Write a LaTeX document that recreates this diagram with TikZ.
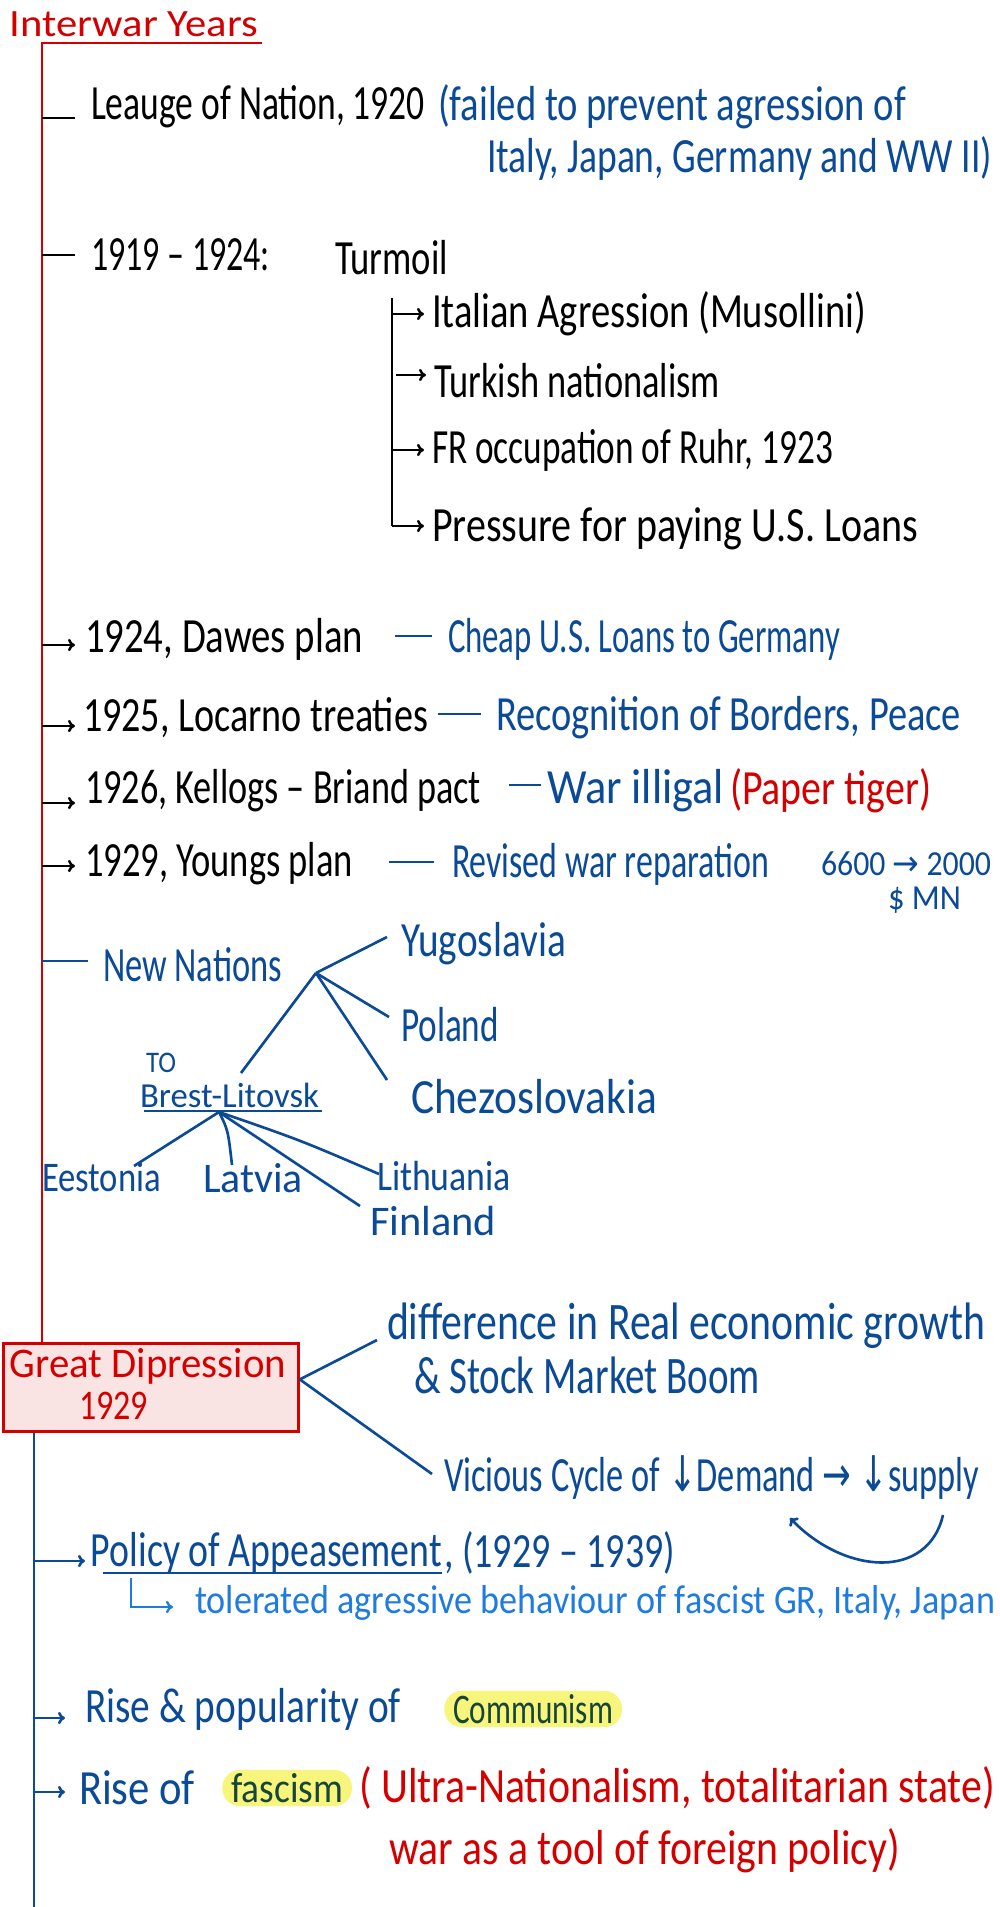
\documentclass[tikz,border=0pt]{standalone}
\usepackage{fontspec}
\usepackage{graphicx}
\setmainfont{Carlito}
\newfontfamily\symf{DejaVu Sans}
\usetikzlibrary{arrows.meta,calc}
\newlength\px \setlength\px{0.02cm}
\newcommand\fw[2]{\resizebox{#1\px}{\height}{#2}}
\definecolor{nblue}{HTML}{0B4A96}
\definecolor{nred}{HTML}{D40000}
\definecolor{lblue}{HTML}{1E7BE0}
\definecolor{hgreen}{HTML}{16463A}
\definecolor{hyel}{HTML}{F7F57C}
\definecolor{boxfill}{HTML}{F9E3E3}
\begin{document}
\begin{tikzpicture}[x=0.02cm,y=-0.02cm,
  txt/.style={anchor=west,inner sep=0pt,outer sep=0pt,font=\fontsize{28}{32}\selectfont},
  blk/.style={txt,text=black},
  blu/.style={txt,text=nblue},
  rd/.style={txt,text=nred},
  lb/.style={txt,text=lblue},
  mid/.style={font=\fontsize{24}{28}\selectfont},
  sml/.style={font=\fontsize{20}{24}\selectfont},
  hl/.style={anchor=west,fill=hyel,rounded corners=10pt,inner xsep=5pt,inner ysep=2pt,text=hgreen,font=\fontsize{24}{28}\selectfont},
  rline/.style={draw=nred,line width=1.6pt},
  bline/.style={draw=nblue,line width=1.5pt},
  kline/.style={draw=black,line width=1.4pt},
  karr/.style={kline,-{To[length=4pt,width=7pt]}},
  barr/.style={bline,-{To[length=4pt,width=7pt]}},
  larr/.style={draw=lblue,line width=1.3pt,-{To[length=4pt,width=7pt]}}]
\useasboundingbox (0,0) rectangle (1000,1907);
\fill[white] (0,0) rectangle (1000,1907);

% ---------- title and red spine ----------
\node[rd,font=\fontsize{22}{26}\selectfont] (title) at (10,24) {\fw{248}{Interwar Years}};
\coordinate (rtop) at (42,43);
\coordinate (tend) at (262,43);
\node[draw=nred,fill=boxfill,line width=1.6pt,minimum width=295\px,minimum height=88\px,anchor=north west,inner sep=0pt] (gd) at (2,1342) {};
\draw[rline] (tend) -- (rtop) -- (rtop |- gd.north);
\node[rd,mid] (gd1) at (10,1366) {\fw{276}{Great Dipression}};
\node[rd,mid] (gd2) at (79,1406) {\fw{69}{1929}};

% ---------- League of Nations ----------
\node[blk] (lea) at (91,107) {\fw{334}{Leauge of Nation, 1920}};
\coordinate (t1a) at (42,118); \coordinate (t1b) at (75,118);
\draw[kline] (t1a) -- (t1b);
\node[blu] (fail1) at (438,107) {\fw{468}{(failed to prevent agression of}};
\node[blu] (fail2) at (487,158) {\fw{505}{Italy, Japan, Germany and WW II)}};

% ---------- 1919-1924 Turmoil ----------
\node[blk] (yr) at (91,255) {\fw{179}{1919 – 1924:}};
\coordinate (t2a) at (42,255); \coordinate (t2b) at (75,255);
\draw[kline] (t2a) -- (t2b);
\node[blk] (turm) at (335,258) {\fw{113}{Turmoil}};
\node[blk] (ita) at (432,314) {\fw{434}{Italian Agression (Musollini)}};
\node[blk] (tur) at (434,381) {\fw{286}{Turkish nationalism}};
\node[blk] (fr) at (432,450) {\fw{401}{FR occupation of Ruhr, 1923}};
\node[blk] (pre) at (432,529) {\fw{486}{Pressure for paying U.S. Loans}};
\coordinate (vt) at (392,298);
\coordinate (vb) at (392,526);
\draw[kline] (vt) -- (vb);
\draw[karr] (vb) -- ($(pre.west)+(-8,-3)$);
\draw[karr] (vt |- ita.west) -- ($(ita.west)+(-8,0)$);
\draw[karr] ($(vt |- tur.west)+(4,-6)$) -- ($(tur.west)+(-8,-6)$);
\draw[karr] (vt |- fr.west) -- ($(fr.west)+(-8,0)$);

% ---------- treaties ----------
\node[blk] (daw) at (85,639) {\fw{278}{1924, Dawes plan}};
\node[blu] (dawb) at (448,639) {\fw{392}{Cheap U.S. Loans to Germany}};
\node[blk] (loc) at (83,718) {\fw{345}{1925, Locarno treaties}};
\node[blu] (locb) at (496,718) {\fw{465}{Recognition of Borders, Peace}};
\node[blk] (kel) at (85,791) {\fw{396}{1926, Kellogs – Briand pact}};
\node[blu] (kelb) at (547,791) {\fw{177}{War illigal}};
\node[rd] (kelr) at (730,791) {\fw{201}{(Paper tiger)}};
\node[blk] (you) at (85,864) {\fw{268}{1929, Youngs plan}};
\node[blu] (youb) at (452,864) {\fw{317}{Revised war reparation}};
\node[blu,sml] (youn) at (821,864) {\fw{170}{6600 {\symf →} 2000}};
\node[blu,sml] (youm) at (888,900) {\fw{73}{\$ MN}};

\draw[karr] (rtop |- 0,645) -- ($(daw.west)+(-10,6)$);
\draw[karr] (rtop |- 0,726) -- ($(loc.west)+(-8,8)$);
\draw[karr] (rtop |- 0,803) -- ($(kel.west)+(-10,12)$);
\draw[karr] (rtop |- 0,866) -- ($(you.west)+(-10,2)$);

\draw[bline] ($(daw.east)+(32,-3)$) -- ($(dawb.west)+(-16,-3)$);
\draw[bline] ($(loc.east)+(10,-4)$) -- ($(locb.west)+(-15,-4)$);
\draw[bline] ($(kel.east)+(28,-6)$) -- ($(kelb.west)+(-6,-6)$);
\draw[bline] ($(you.east)+(36,-2)$) -- ($(youb.west)+(-18,-2)$);

% ---------- New nations ----------
\node[blu] (nn) at (103,965) {\fw{179}{New Nations}};
\coordinate (t3a) at (42,961); \coordinate (t3b) at (88,961);
\draw[bline] (t3a) -- (t3b);
\coordinate (hub) at (316,973);
\node[blu] (yug) at (401,944) {\fw{165}{Yugoslavia}};
\node[blu] (pol) at (401,1025) {\fw{98}{Poland}};
\node[blu] (che) at (411,1097) {\fw{246}{Chezoslovakia}};
\node[blu,font=\fontsize{17}{20}\selectfont] (to) at (146,1063) {\fw{30}{TO}};
\node[blu,font=\fontsize{20}{24}\selectfont] (bl) at (140,1095) {\fw{179}{Brest-Litovsk}};
\draw[bline] (hub) -- ($(yug.west)+(-14,-7)$);
\draw[bline] (hub) -- ($(pol.west)+(-12,-8)$);
\draw[bline] (hub) -- ($(che.west)+(-24,-17)$);
\draw[bline] (hub) -- (241,1073);
\coordinate (ul1) at (144,1111); \coordinate (ul2) at (322,1111);
\draw[bline] (ul1) -- (ul2);
\coordinate (hub2) at (219,1112);
\node[blu,mid] (est) at (42,1177) {\fw{119}{Eestonia}};
\node[blu,mid] (lat) at (203,1178) {\fw{100}{Latvia}};
\node[blu,mid] (lit) at (377,1176) {\fw{134}{Lithuania}};
\node[blu,mid] (fin) at (370,1221) {\fw{126}{Finland}};
\draw[bline] (hub2) -- (134,1166);
\draw[bline] (hub2) .. controls (228,1130) .. (232,1165);
\draw[bline] (hub2) .. controls (300,1140) .. ($(lit.west)+(2,-2)$);
\draw[bline] (hub2) -- (360,1206);

% ---------- Great Depression ----------
\node[blu,font=\fontsize{30}{34}\selectfont] (dif1) at (387,1326) {\fw{598}{difference in Real economic growth}};
\node[blu,font=\fontsize{30}{34}\selectfont] (dif2) at (414,1375) {\fw{346}{\& Stock Market Boom}};
\node[blu] (vic) at (444,1478) {\fw{535}{Vicious Cycle of {\symf ↓}Demand {\symf →} {\symf ↓}supply}};
\draw[bline] ($(gd.east)+(0,-8)$) -- ($(dif1.west)+(-10,14)$);
\draw[bline] ($(gd.east)+(0,-8)$) -- ($(vic.west)+(-12,-4)$);
\coordinate (ca1) at (943,1515);
\coordinate (ca2) at (790,1518);
\draw[barr] (ca1) .. controls (928,1580) and (845,1575) .. (ca2);

% ---------- blue spine ----------
\coordinate (bbot) at (34,1907);
\draw[bline] (gd.south -| bbot) -- (bbot);

\node[blu] (app) at (91,1553) {\fw{351}{Policy of Appeasement}};
\node[blu] (appy) at (444,1553) {\fw{231}{, (1929 – 1939)}};
\coordinate (au1) at (103,1573); \coordinate (au2) at (442,1573);
\draw[bline] (au1) -- (au2);
\draw[barr] (bbot |- 0,1561) -- ($(app.west)+(-6,8)$);
\node[lb,font=\fontsize{23}{27}\selectfont] (tol) at (195,1603) {\fw{800}{tolerated agressive behaviour of fascist GR, Italy, Japan}};
\coordinate (sb1) at (131,1578);
\draw[larr] (sb1) |- ($(tol.west)+(-22,4)$);

\node[blu] (com) at (85,1709) {\fw{316}{Rise \& popularity of}};
\node[hl] (comh) at (444,1709) {\fw{160}{Communism}};
\draw[barr] (bbot |- 0,1718) -- ($(com.west)+(-20,9)$);

\node[blu] (fas) at (79,1788) {\fw{116}{Rise of}};
\node[hl] (fash) at (222,1788) {\fw{112}{fascism}};
\node[rd] (fasr) at (359,1788) {\fw{636}{( Ultra-Nationalism, totalitarian state)}};
\node[rd] (war) at (389,1851) {\fw{511}{war as a tool of foreign policy)}};
\draw[barr] (bbot |- 0,1792) -- ($(fas.west)+(-14,4)$);
\end{tikzpicture}
\end{document}
